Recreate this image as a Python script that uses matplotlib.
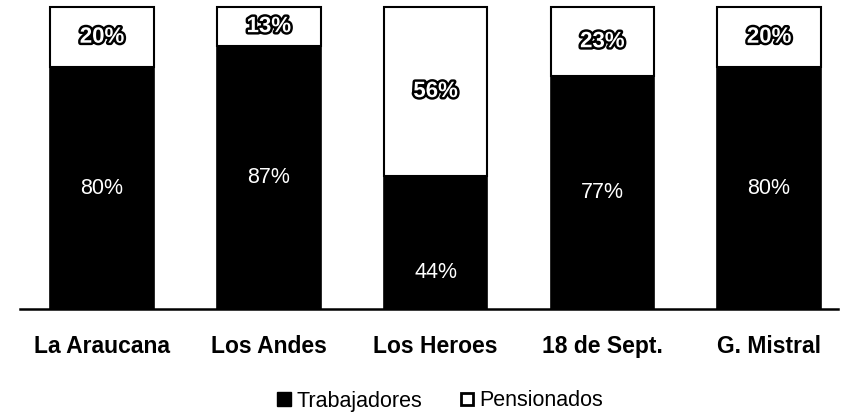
import matplotlib.pyplot as plt
import matplotlib.patheffects as pe
from matplotlib.lines import Line2D

# data
categories = ["La Araucana", "Los Andes", "Los Heroes", "18 de Sept.", "G. Mistral"]
trabajadores = [80, 87, 44, 77, 80]
pensionados = [20, 13, 56, 23, 20]

plt.rcParams['font.family'] = ['Liberation Sans Narrow', 'Liberation Sans', 'DejaVu Sans']

fig = plt.figure(figsize=(8.57, 4.17), dpi=100)
ax = fig.add_axes([20 / 857, 1 - 309 / 417, 818 / 857, 302 / 417])

x = list(range(len(categories)))
width = 0.62
b1 = ax.bar(x, trabajadores, width, color='black', edgecolor='black', linewidth=1.2,
            label='Trabajadores', clip_on=False)
b2 = ax.bar(x, pensionados, width, bottom=trabajadores, color='white', edgecolor='black',
            linewidth=1.5, label='Pensionados', clip_on=False)

# inner labels (Los Heroes label sits lower in the original)
shift = [0, 0, -10, 0, 0]
for i, v in enumerate(trabajadores):
    ax.text(i, v / 2 + shift[i], f"{v}%", ha='center', va='center', color='white',
            fontsize=15.5)
for i, (t, p) in enumerate(zip(trabajadores, pensionados)):
    ax.text(i, t + p / 2, f"{p}%", ha='center', va='center', color='white',
            fontsize=16, fontweight='bold',
            path_effects=[pe.withStroke(linewidth=3.5, foreground='black')])

ax.set_xlim(-0.492, 4.413)
ax.set_ylim(0, 100)
for s in ['top', 'right', 'left']:
    ax.spines[s].set_visible(False)
ax.spines['bottom'].set_linewidth(1.8)
ax.set_yticks([])
ax.set_xticks(x)
ax.set_xticklabels(categories, fontsize=16.5, fontweight='bold')
ax.tick_params(axis='x', length=0, pad=19)

handles = [
    Line2D([], [], marker='s', color='none', markerfacecolor='black', markeredgecolor='black',
           markersize=10, label='Trabajadores'),
    Line2D([], [], marker='s', color='none', markerfacecolor='white', markeredgecolor='black',
           markeredgewidth=2, markersize=9, label='Pensionados'),
]
fig.legend(handles=handles, loc='center', bbox_to_anchor=(438 / 857, 1 - 401 / 417), ncol=2,
           frameon=False, fontsize=15.5, handletextpad=0.05, columnspacing=1.6, handlelength=1.0)

fig.savefig('out.png', dpi=100)
